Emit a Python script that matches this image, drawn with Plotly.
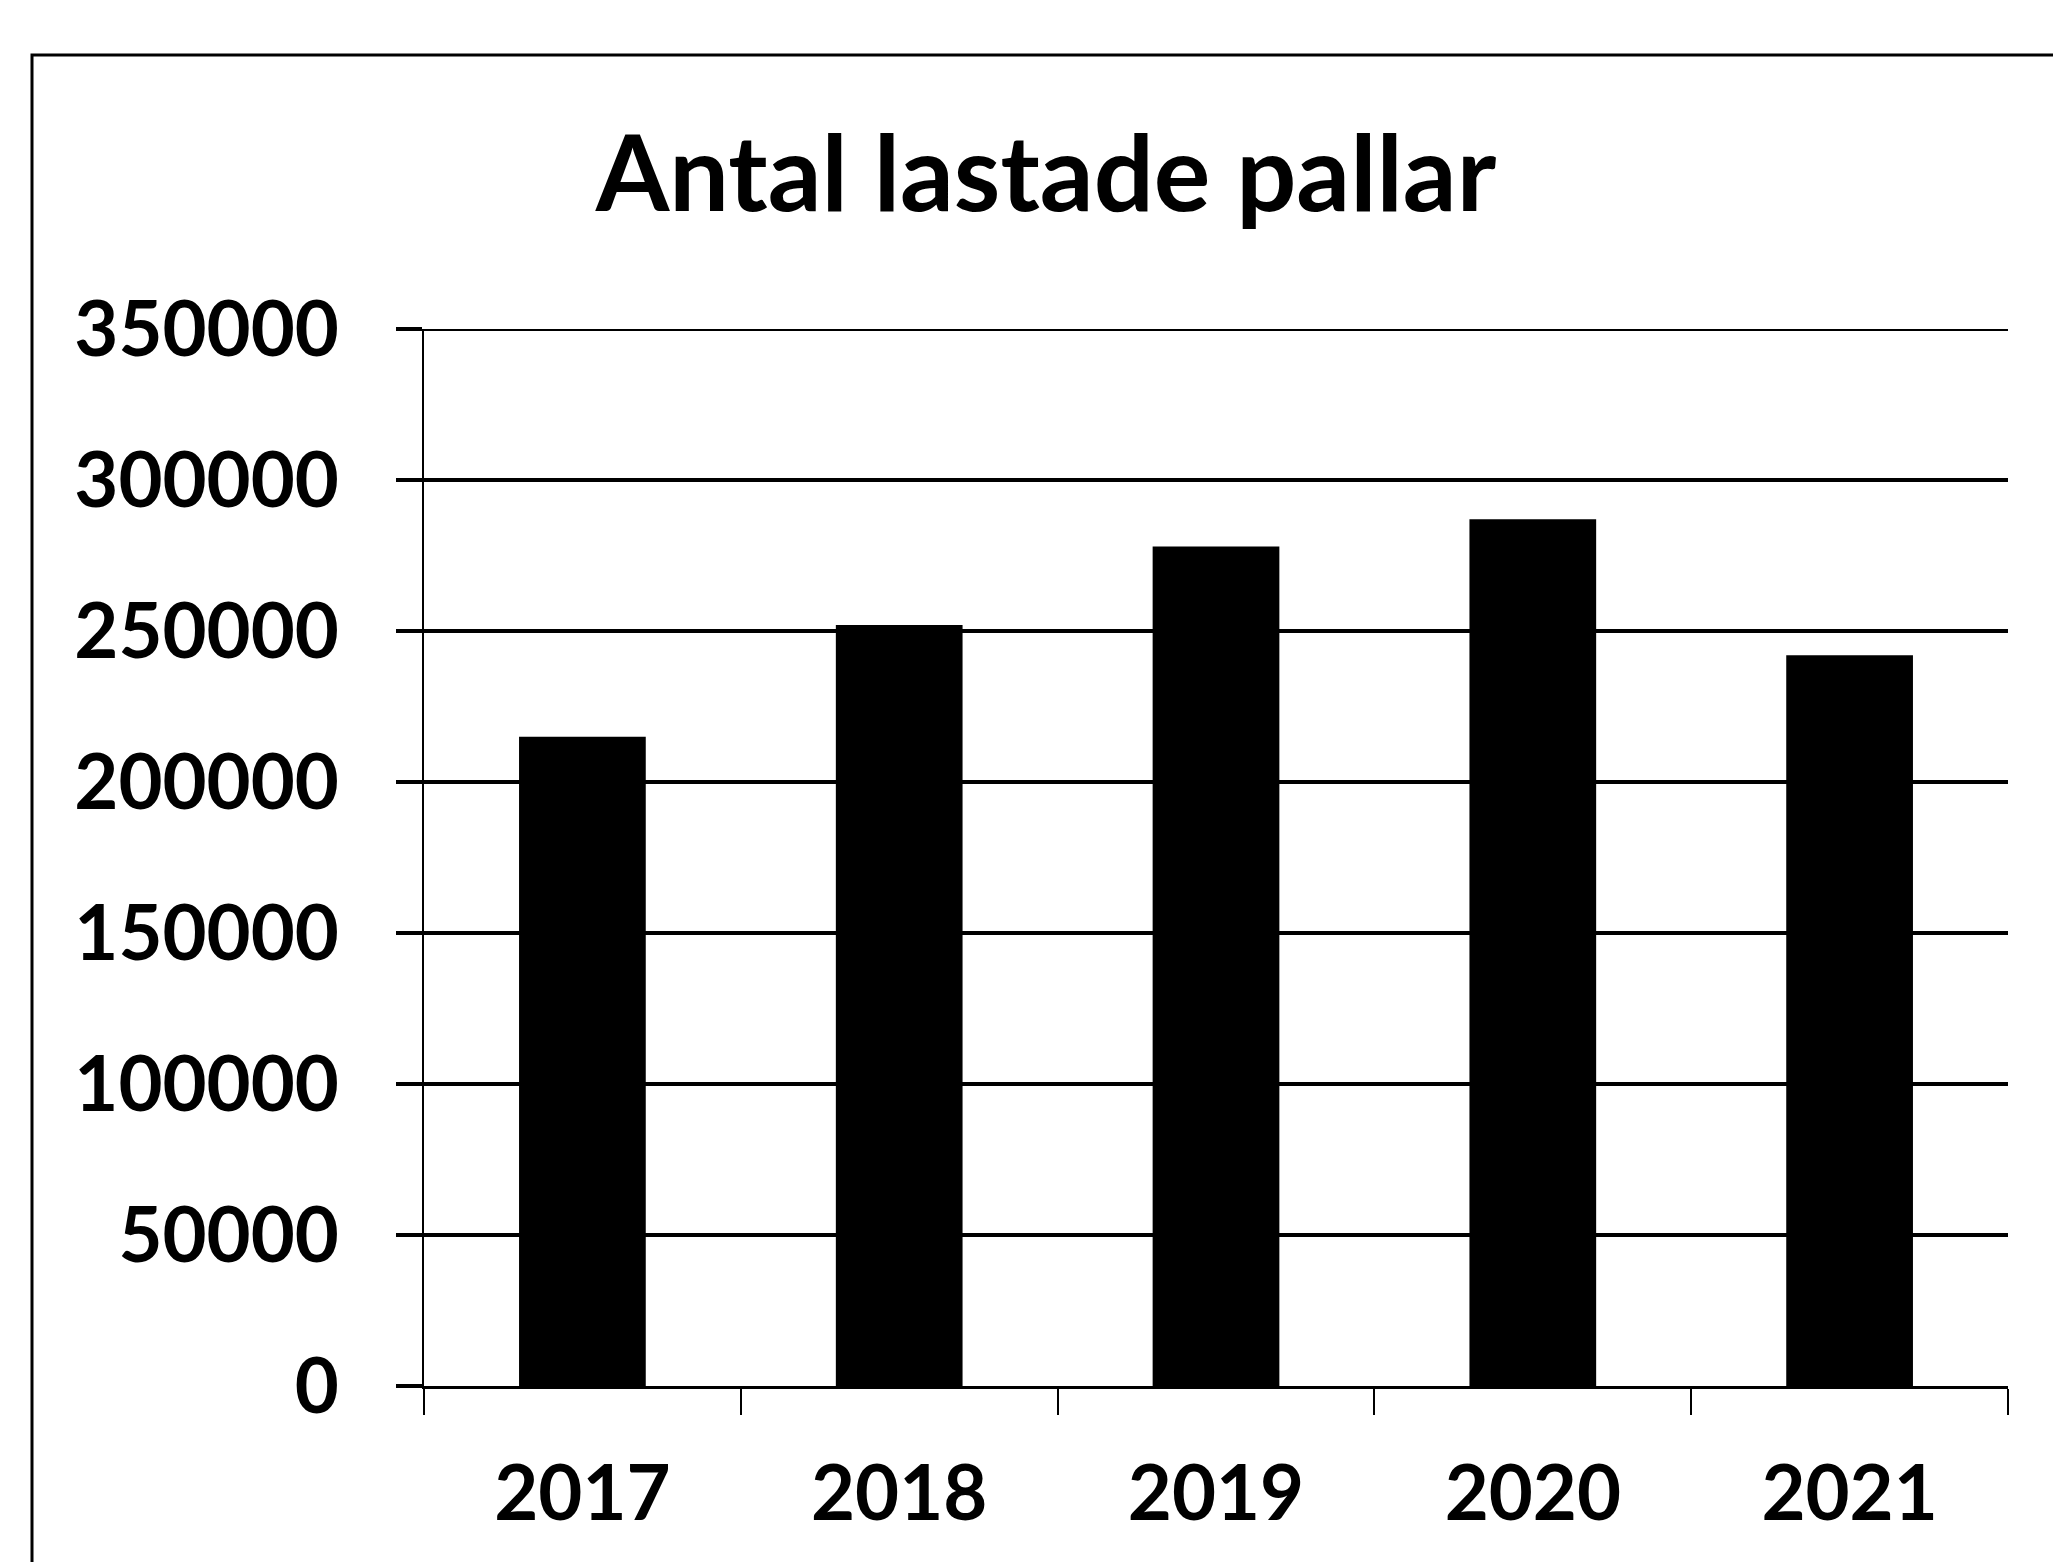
import plotly.graph_objects as go

years = ["2017", "2018", "2019", "2020", "2021"]
pallets = [215000, 252000, 278000, 287000, 242000]
y_ticks = [0, 50000, 100000, 150000, 200000, 250000, 300000, 350000]
title_text = "Antal lastade pallar"

W, H = 2061, 1562
L, R, T, B = 416, 2000, 321, 1378
pw, ph = R - L, B - T

fig = go.Figure(go.Bar(x=years, y=pallets, marker=dict(color="black", line=dict(width=0)), width=0.4))

font_family = "Lato"
fig.update_layout(
    width=W, height=H,
    margin=dict(l=L, r=W - R, t=T, b=H - B),
    paper_bgcolor="white", plot_bgcolor="white",
    showlegend=False,
    title=dict(text="<b>" + title_text + "</b>", x=1038 / W, xanchor="center",
               y=1 - 166 / H, yanchor="middle",
               font=dict(family=font_family, size=106, color="black")),
    font=dict(family=font_family, color="black"),
)
fig.update_yaxes(
    range=[0, max(y_ticks)], tickvals=y_ticks, ticktext=["<b>%d</b>" % v for v in y_ticks],
    showgrid=True, gridcolor="black", gridwidth=4,
    showline=True, linecolor="black", linewidth=2,
    ticks="outside", ticklen=26, tickcolor="black", tickwidth=4,
    ticklabelstandoff=42,
    tickfont=dict(family=font_family, size=76, color="black"),
    zeroline=False,
)
fig.update_xaxes(
    tickvals=years, ticktext=["<b>%s</b>" % y for y in years],
    showgrid=False, showline=True, linecolor="black", linewidth=3,
    ticks="outside", tickson="boundaries", ticklen=26, tickcolor="black", tickwidth=2,
    ticklabelstandoff=40,
    tickfont=dict(family=font_family, size=76, color="black"),
)
# top gridline at the maximum tick (plotly omits the grid line at the range edge)
fig.add_shape(type="line", xref="paper", yref="y", x0=0, x1=1,
              y0=max(y_ticks), y1=max(y_ticks), line=dict(color="black", width=4))
fig.add_shape(type="rect", xref="paper", yref="paper",
              x0=(24 - L) / pw, x1=(2075 - L) / pw,
              y0=-(1600 - B) / ph, y1=(B - 47) / ph,
              line=dict(color="black", width=3), fillcolor="rgba(0,0,0,0)", layer="below")
fig.write_html("out.html")
